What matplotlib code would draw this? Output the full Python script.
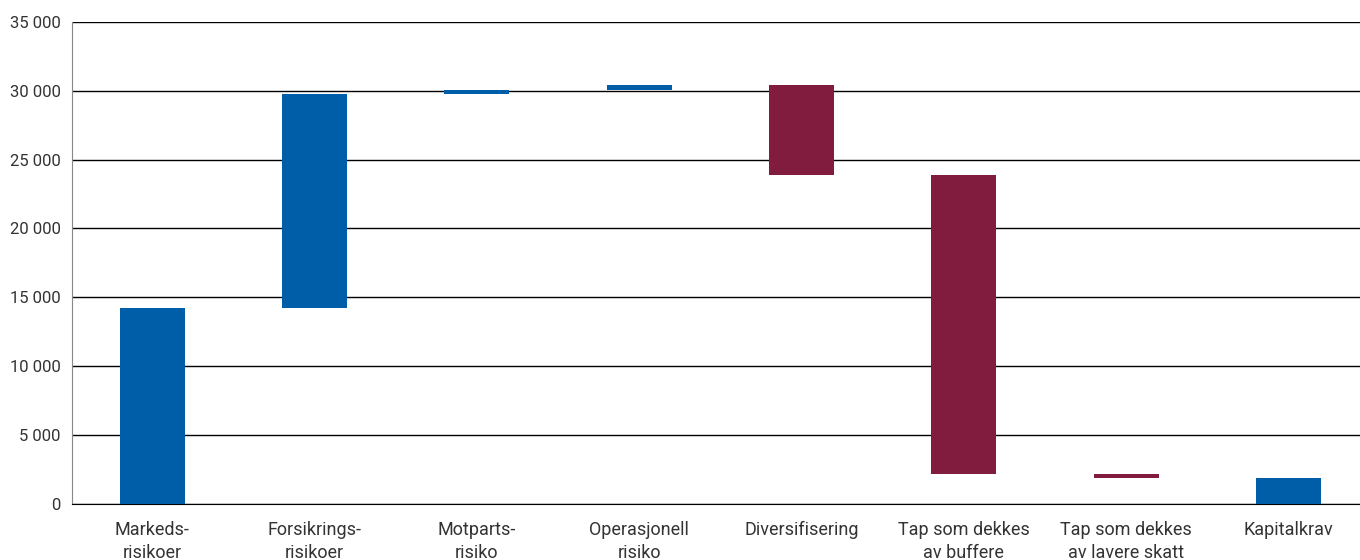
import matplotlib.pyplot as plt
import numpy as np

plt.rcParams['font.family'] = ['Roboto', 'DejaVu Sans']

categories = ['Markeds-\nrisikoer', 'Forsikrings-\nrisikoer', 'Motparts-\nrisiko',
              'Operasjonell\nrisiko', 'Diversifisering', 'Tap som dekkes\nav buffere',
              'Tap som dekkes\nav lavere skatt', 'Kapitalkrav']
# changes in each step, last one is the total
deltas = [14250, 15500, 300, 350, -6550, -21650, -300]
total = 1900

blue = '#005EA8'
red = '#821C3F'

bottoms = []
heights = []
colors = []
level = 0
for d in deltas:
    if d >= 0:
        bottoms.append(level)
        heights.append(d)
        colors.append(blue)
    else:
        bottoms.append(level + d)
        heights.append(-d)
        colors.append(red)
    level += d
bottoms.append(0)
heights.append(total)
colors.append(blue)

fig = plt.figure(figsize=(13.6, 5.6), dpi=100)
ax = fig.add_axes([0.053, 0.1, 0.947, 0.861])

x = np.arange(len(categories))
ax.bar(x, heights, bottom=bottoms, width=0.4, color=colors, zorder=3)

ax.set_ylim(0, 35000)
ax.set_xlim(-0.493, 7.44)
ax.set_yticks(np.arange(0, 35001, 5000))
ax.set_yticklabels([f'{v:,}'.replace(',', ' ') for v in range(0, 35001, 5000)],
                   fontsize=12, color='#333333')
ax.set_xticks(x)
ax.set_xticklabels(categories, fontsize=13, color='#333333', linespacing=1.35)
ax.tick_params(axis='x', length=0, pad=12)
ax.tick_params(axis='y', length=0, pad=8)

ax.yaxis.grid(True, color='black', linewidth=1, zorder=0)
ax.set_axisbelow(True)
for s in ['top', 'right']:
    ax.spines[s].set_visible(False)
ax.spines['left'].set_color('#888888')
ax.spines['bottom'].set_color('black')

fig.savefig('out.png', dpi=100)
